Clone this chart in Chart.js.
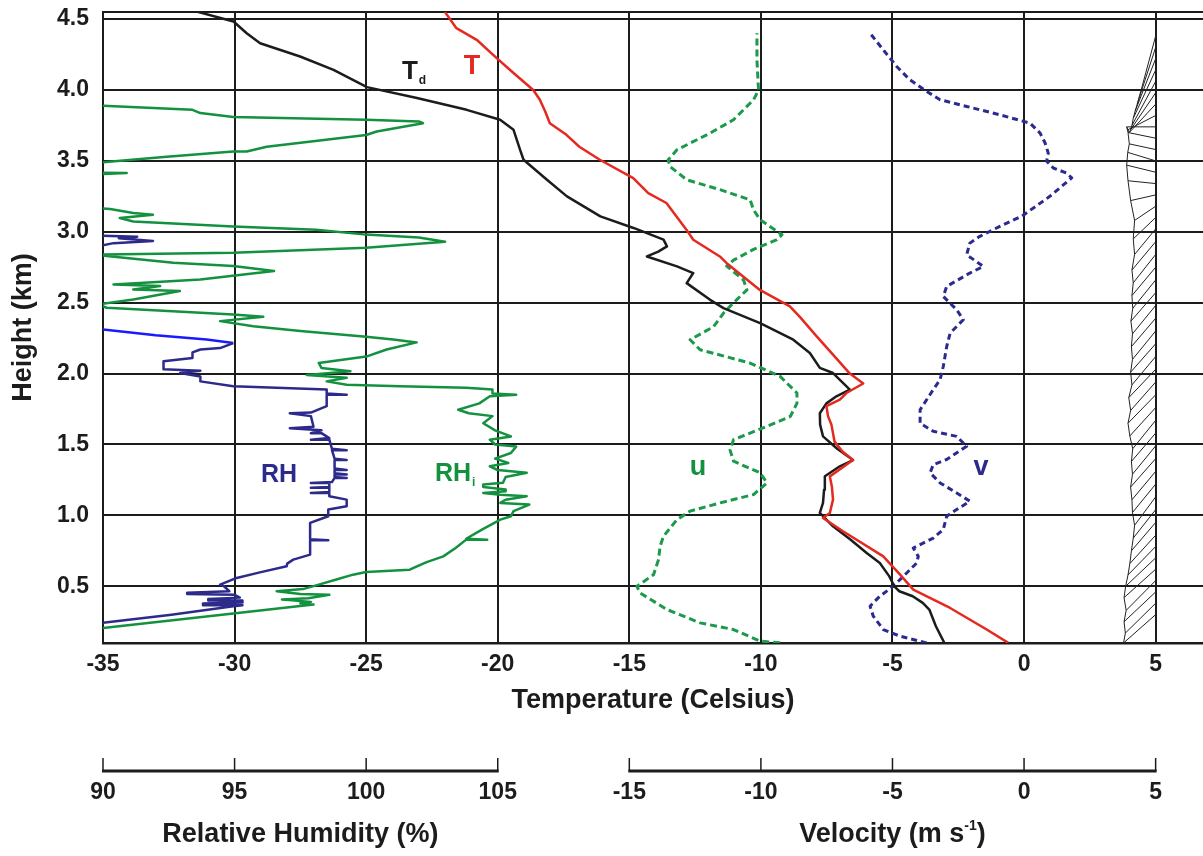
<!DOCTYPE html>
<html>
<head>
<meta charset="utf-8">
<title>Sounding profile</title>
<script src="https://cdn.jsdelivr.net/npm/chart.js@4.4.1/dist/chart.umd.min.js"></script>
<style>
  html, body { margin: 0; padding: 0; background: #fff; }
  canvas { display: block; }
</style>
</head>
<body>
<canvas id="sounding" width="1203" height="856"></canvas>
<script>
// profiles are [height km, value]
const temperature = [
  [0.101, -0.6], [0.195, -1.42], [0.347, -2.81], [0.476, -4.21], [0.582, -4.71], [0.711, -5.35],
  [0.888, -6.88], [0.982, -7.64], [1.017, -7.38], [1.111, -7.26], [1.2, -7.3], [1.275, -7.38],
  [1.39, -6.5], [1.45, -6.9], [1.52, -7.2], [1.64, -7.32], [1.7, -7.45], [1.77, -7.51],
  [1.816, -7.0], [1.863, -6.75], [1.93, -6.11], [2.0, -6.62], [2.1, -7.1], [2.262, -7.88],
  [2.4, -8.52], [2.474, -8.9], [2.59, -10.04], [2.78, -11.31], [2.826, -11.56], [2.944, -12.57],
  [3.015, -12.83], [3.203, -13.59], [3.273, -14.28], [3.379, -14.85], [3.508, -16.12], [3.6, -16.9],
  [3.684, -17.39], [3.766, -18.02], [3.85, -18.2], [3.931, -18.4], [4.0, -18.65], [4.12, -19.4],
  [4.225, -20.04], [4.354, -20.8], [4.436, -21.57], [4.551, -22.01]
];

const dewPoint = [
  [0.101, -3.03], [0.218, -3.35], [0.336, -3.6], [0.383, -3.85], [0.43, -4.23], [0.465, -4.74],
  [0.5, -4.93], [0.57, -5.12], [0.664, -5.48], [0.735, -5.98], [0.83, -6.6], [0.923, -7.26],
  [1.017, -7.76], [1.088, -7.64], [1.18, -7.6], [1.276, -7.57], [1.346, -7.0], [1.39, -6.5],
  [1.47, -7.1], [1.557, -7.64], [1.64, -7.75], [1.72, -7.76], [1.79, -7.51], [1.84, -7.13],
  [1.887, -6.62], [2.004, -7.26], [2.04, -7.76], [2.145, -8.14], [2.239, -8.77], [2.356, -10.03],
  [2.462, -11.42], [2.52, -11.93], [2.638, -12.82], [2.709, -12.57], [2.756, -13.19], [2.826, -14.33],
  [2.86, -13.9], [2.897, -13.57], [2.945, -13.7], [3.027, -14.84], [3.109, -16.1], [3.25, -17.37],
  [3.367, -18.13], [3.508, -19.02], [3.578, -19.15], [3.719, -19.4], [3.79, -19.91], [3.86, -21.18],
  [3.943, -23.07], [4.02, -24.97], [4.142, -26.24], [4.236, -27.51], [4.33, -29.03], [4.4, -29.54],
  [4.483, -30.04], [4.553, -31.44]
];

// relative humidity wrt water (%), null = break in the trace
const humidity = [
  [0.22, 89.5], [0.242, 90.0], [0.3, 92.6], [0.359, 94.95], [0.367, 95.3], [0.367, 93.8],
  [0.378, 93.8], [0.385, 95.3], [0.4, 95.3], [0.4, 94.0], [0.41, 94.0], [0.42, 95.2],
  [0.44, 95.0], [0.445, 93.2], [0.455, 93.2], [0.465, 94.8], [0.5, 94.6], [0.512, 94.45],
  [0.559, 95.08], [0.6, 96.0], [0.641, 96.98], [0.66, 97.0], [0.688, 97.23], [0.723, 97.87],
  [0.824, 97.87], [0.824, 98.56], [0.832, 97.87], [0.947, 97.87], [0.994, 98.56], [1.041, 98.56],
  [1.064, 99.26], [1.111, 99.26], [1.135, 98.6], [1.158, 98.6], [1.158, 97.9], [1.165, 98.6],
  [1.194, 98.6], [1.194, 97.9], [1.2, 98.6], [1.229, 98.6], [1.229, 97.9], [1.235, 98.7],
  [1.264, 98.8], [1.264, 99.26], [1.27, 98.8], [1.288, 98.8], [1.288, 99.26], [1.297, 98.8],
  [1.32, 98.8], [1.32, 99.26], [1.33, 98.8], [1.39, 98.8], [1.39, 99.26], [1.4, 98.8],
  [1.46, 98.7], [1.46, 99.26], [1.47, 98.7], [1.534, 98.6], [1.534, 97.9], [1.545, 98.6],
  [1.58, 98.3], [1.58, 97.9], [1.6, 98.3], [1.615, 97.1], [1.625, 98.0], [1.7, 97.9],
  [1.72, 97.1], [1.725, 97.9], [1.77, 98.5], [1.85, 98.5], [1.85, 99.26], [1.86, 98.5],
  [1.887, 98.5], [1.91, 94.95], [1.945, 93.7], [1.98, 93.7], [2.004, 92.93], [2.02, 93.7],
  [2.03, 92.3], [2.087, 92.3], [2.11, 93.4], [2.15, 93.4], [2.17, 93.7], [2.18, 94.45],
  [2.215, 94.95],
  [null, null],
  [2.975, 89.5], [2.965, 91.3], [2.955, 90.6], [2.935, 91.9], [2.92, 90.4], [2.89, 89.6]
];

// upper part of the RH trace, drawn in bright blue
const humidityTop = [
  [2.215, 94.95], [2.24, 93.94], [2.27, 92.0], [2.305, 90.27], [2.32, 89.5]
];

// relative humidity wrt ice (%)
const humidityIce = [
  [0.19, 89.3], [0.206, 90.0], [0.308, 94.95], [0.371, 98.0], [0.38, 97.5], [0.39, 97.9],
  [0.406, 96.8], [0.415, 97.8], [0.44, 98.6], [0.445, 97.5], [0.465, 96.6], [0.48, 97.6],
  [0.512, 98.2], [0.55, 98.9], [0.582, 99.5], [0.6, 100.0], [0.617, 101.66], [0.629, 101.8],
  [0.67, 102.3], [0.711, 102.93], [0.77, 103.4], [0.829, 103.8], [0.829, 104.6], [0.835, 103.8],
  [0.9, 104.4], [0.97, 105.1], [0.994, 105.5], [1.03, 105.6], [1.076, 106.2], [1.088, 105.1],
  [1.11, 105.3], [1.135, 106.1], [1.145, 105.1], [1.158, 104.45], [1.17, 105.3], [1.182, 105.3],
  [1.2, 104.45], [1.217, 104.45], [1.23, 105.2], [1.27, 105.3], [1.3, 106.1], [1.32, 105.0],
  [1.346, 104.7], [1.37, 105.4], [1.4, 104.9], [1.44, 105.5], [1.485, 105.7], [1.5, 104.9],
  [1.534, 104.7], [1.557, 105.5], [1.6, 104.9], [1.65, 104.45], [1.7, 104.8], [1.72, 103.9],
  [1.745, 103.5], [1.79, 104.3], [1.84, 104.7], [1.85, 105.7], [1.86, 104.8], [1.887, 104.8],
  [1.9, 103.8], [1.91, 101.3], [1.922, 99.26], [1.945, 98.5], [1.97, 99.26], [1.99, 97.74],
  [2.016, 99.4], [2.04, 98.3], [2.075, 98.2], [2.12, 100.0], [2.17, 100.78], [2.22, 101.92],
  [2.24, 101.03], [2.26, 100.0], [2.3, 97.5], [2.334, 95.71], [2.37, 94.45], [2.4, 96.09],
  [2.417, 94.95], [2.452, 91.4], [2.464, 90.14], [2.488, 89.8], [2.523, 91.15], [2.582, 92.92],
  [2.593, 91.15], [2.617, 92.17], [2.629, 90.4], [2.664, 93.7], [2.723, 96.5], [2.758, 94.95],
  [2.782, 92.67], [2.829, 90.14], [2.84, 89.8], [2.852, 94.95], [2.887, 100.0], [2.93, 103.0],
  [2.96, 102.0], [2.98, 100.0], [3.014, 98.1], [3.038, 94.95], [3.073, 91.15], [3.097, 90.64],
  [3.12, 91.9], [3.132, 91.15], [3.16, 90.27], [3.18, 89.0], [3.4, 88.8], [3.414, 90.9],
  [3.42, 89.2], [3.47, 88.8], [3.49, 90.0], [3.53, 92.42], [3.566, 94.95], [3.566, 95.46],
  [3.6, 96.22], [3.683, 100.0], [3.707, 100.4], [3.766, 102.16], [3.778, 102.0], [3.79, 100.0],
  [3.81, 94.95], [3.837, 93.7], [3.86, 93.4], [3.888, 90.0], [3.9, 89.0]
];

// wind components (m/s)
const windU = [
  [0.101, -9.27], [0.113, -10.03], [0.195, -11.04], [0.242, -12.31], [0.336, -13.57], [0.453, -14.59],
  [0.5, -14.71], [0.582, -14.08], [0.688, -13.89], [0.782, -13.83], [0.853, -13.7], [0.97, -13.19],
  [1.03, -12.69], [1.088, -11.55], [1.147, -10.28], [1.229, -9.77], [1.3, -10.03], [1.382, -11.04],
  [1.46, -11.17], [1.534, -11.04], [1.628, -9.77], [1.698, -8.88], [1.79, -8.63], [1.863, -8.63],
  [1.98, -9.27], [2.074, -10.41], [2.168, -12.31], [2.239, -12.69], [2.33, -11.8], [2.427, -11.42],
  [2.5, -11.04], [2.59, -10.53], [2.66, -10.66], [2.758, -11.3], [2.8, -11.04], [2.876, -10.28],
  [2.944, -9.39], [2.979, -9.2], [3.085, -10.03], [3.155, -10.28], [3.226, -10.41], [3.297, -11.55],
  [3.367, -12.82], [3.461, -13.46], [3.508, -13.52], [3.578, -13.19], [3.696, -11.93], [3.79, -11.04],
  [3.931, -10.28], [4.0, -10.09], [4.21, -10.15], [4.4, -10.15]
];

const windV = [
  [0.101, -3.7], [0.148, -4.71], [0.195, -5.35], [0.289, -5.73], [0.359, -5.85], [0.383, -5.73],
  [0.43, -5.48], [0.5, -4.97], [0.594, -4.46], [0.664, -4.08], [0.711, -4.02], [0.77, -4.21],
  [0.84, -3.45], [0.9, -3.07], [0.994, -2.94], [1.041, -2.56], [1.1, -2.06], [1.158, -2.56],
  [1.229, -3.19], [1.3, -3.57], [1.358, -3.45], [1.394, -2.94], [1.487, -2.18], [1.557, -2.56],
  [1.593, -3.45], [1.65, -3.95], [1.745, -3.95], [1.887, -3.45], [1.957, -3.19], [2.05, -3.07],
  [2.19, -2.94], [2.285, -2.81], [2.38, -2.31], [2.45, -2.56], [2.544, -3.07], [2.615, -2.94],
  [2.709, -2.06], [2.756, -1.55], [2.838, -2.18], [2.92, -2.06], [2.968, -1.68], [3.038, -0.92],
  [3.109, -0.095], [3.25, 0.98], [3.38, 1.81], [3.414, 1.62], [3.45, 1.11], [3.497, 0.86],
  [3.555, 0.92], [3.626, 0.8], [3.696, 0.61], [3.766, 0.23], [3.825, -0.92], [3.884, -2.18],
  [3.931, -3.19], [3.99, -3.7], [4.072, -4.34], [4.166, -4.84], [4.283, -5.35], [4.4, -5.85]
];

// wind sticks hanging from the 5 m/s line: [base height, tip velocity, tip height]
const stickBaseSpeed = 5;
const windSticks = [
  [0.3, 3.78, 0.1], [0.38, 3.85, 0.17], [0.46, 3.8, 0.25], [0.54, 3.88, 0.33], [0.62, 3.8, 0.42],
  [0.7, 3.86, 0.5], [0.78, 3.95, 0.58], [0.86, 4.02, 0.66], [0.95, 4.08, 0.75], [1.04, 4.15, 0.84],
  [1.13, 4.2, 0.93], [1.22, 4.12, 1.02], [1.31, 4.1, 1.11], [1.4, 4.05, 1.2], [1.49, 4.12, 1.29],
  [1.58, 4.08, 1.38], [1.67, 4.13, 1.47], [1.76, 4.02, 1.56], [1.85, 3.95, 1.65], [1.94, 4.05, 1.74],
  [2.03, 3.98, 1.83], [2.12, 4.1, 1.92], [2.21, 4.05, 2.01], [2.3, 4.12, 2.1], [2.39, 4.08, 2.19],
  [2.48, 4.12, 2.28], [2.57, 4.06, 2.37], [2.66, 4.13, 2.46], [2.75, 4.1, 2.55], [2.84, 4.15, 2.64],
  [2.93, 4.1, 2.73], [3.02, 4.2, 2.84], [3.1, 4.15, 2.95], [3.18, 4.2, 3.08], [3.26, 4.05, 3.22],
  [3.34, 3.95, 3.36], [3.42, 3.9, 3.47], [3.5, 3.94, 3.56], [3.58, 4.0, 3.62], [3.66, 3.95, 3.7],
  [3.74, 3.9, 3.74], [3.82, 3.95, 3.72], [3.9, 4.0, 3.7], [3.98, 4.05, 3.72], [4.06, 4.1, 3.75],
  [4.14, 4.15, 3.8], [4.22, 4.22, 3.85], [4.3, 4.3, 3.9], [4.38, 4.45, 4.0]
];

const temperatureTicks = [-35, -30, -25, -20, -15, -10, -5, 0, 5];
const heightTicks = [0.5, 1.0, 1.5, 2.0, 2.5, 3.0, 3.5, 4.0, 4.5];
const humidityTicks = [90, 95, 100, 105];
const velocityTicks = [-15, -10, -5, 0, 5];

const FONT = '"Liberation Sans", Arial, Helvetica, sans-serif';
const INK = '#1c1c1c';
const RED = '#e5291f';
const NAVY = '#2c2a8a';
const GREEN = '#14913f';

const toPoints = prof => prof.map(p => ({ x: p[1], y: p[0] }));

const stickPoints = [];
windSticks.forEach(s => {
  stickPoints.push({ x: stickBaseSpeed, y: s[0] }, { x: s[1], y: s[2] }, { x: null, y: null });
});
const stickEdge = windSticks.map(s => ({ x: s[1], y: s[2] }));

// text that sits on the curves
const curveLabels = [
  { text: 'T', sub: 'd', scale: 'x', x: -23.34, y: 4.128, color: INK, size: 26 },
  { text: 'T', scale: 'x', x: -20.98, y: 4.163, color: RED, size: 27 },
  { text: 'RH', scale: 'xRH', x: 96.69, y: 1.287, color: NAVY, size: 25 },
  { text: 'RH', sub: 'i', scale: 'xRH', x: 103.3, y: 1.294, color: GREEN, size: 25 },
  { text: 'u', scale: 'xV', x: -12.39, y: 1.34, color: GREEN, size: 27 },
  { text: 'v', scale: 'xV', x: -1.64, y: 1.34, color: NAVY, size: 27 }
];

const curveLabelPlugin = {
  id: 'curveLabels',
  afterDatasetsDraw(chart) {
    const { ctx } = chart;
    const yScale = chart.scales.y;
    ctx.save();
    ctx.textBaseline = 'middle';
    curveLabels.forEach(l => {
      const px = chart.scales[l.scale].getPixelForValue(l.x);
      const py = yScale.getPixelForValue(l.y);
      ctx.fillStyle = l.color;
      ctx.font = `bold ${l.size}px ${FONT}`;
      ctx.textAlign = 'center';
      ctx.fillText(l.text, px, py);
      if (l.sub) {
        const w = ctx.measureText(l.text).width;
        ctx.font = `bold 12px ${FONT}`;
        ctx.textAlign = 'left';
        ctx.fillText(l.sub, px + w / 2 + 1, py + 9);
      }
    });
    ctx.restore();
  }
};

function drawLowerAxis(ctx, scale, ticks, lineY) {
  const x0 = scale.getPixelForValue(ticks[0]);
  const x1 = scale.getPixelForValue(ticks[ticks.length - 1]);
  ctx.strokeStyle = INK;
  ctx.fillStyle = INK;
  ctx.lineWidth = 3;
  ctx.beginPath();
  ctx.moveTo(x0 - 1, lineY);
  ctx.lineTo(x1 + 1, lineY);
  ctx.stroke();
  ctx.lineWidth = 1.5;
  ctx.font = `bold 23px ${FONT}`;
  ctx.textAlign = 'center';
  ctx.textBaseline = 'middle';
  ticks.forEach(v => {
    const x = scale.getPixelForValue(v);
    ctx.beginPath();
    ctx.moveTo(x, lineY - 13);
    ctx.lineTo(x, lineY);
    ctx.stroke();
    ctx.fillText(String(v), x, lineY + 22);
  });
  return (x0 + x1) / 2;
}

const lowerAxesPlugin = {
  id: 'lowerAxes',
  afterDraw(chart) {
    const { ctx } = chart;
    const lineY = 771, titleY = 835;
    ctx.save();
    const rhMid = drawLowerAxis(ctx, chart.scales.xRH, humidityTicks, lineY);
    const vMid = drawLowerAxis(ctx, chart.scales.xV, velocityTicks, lineY);

    const big = `bold 27px ${FONT}`;
    const small = `bold 14px ${FONT}`;
    ctx.font = big;
    ctx.textAlign = 'center';
    ctx.fillText('Relative Humidity (%)', rhMid, titleY);

    // Velocity (m s^-1)
    const a = 'Velocity (m s', b = '-1', c = ')';
    ctx.font = big;
    const wa = ctx.measureText(a).width, wc = ctx.measureText(c).width;
    ctx.font = small;
    const wb = ctx.measureText(b).width;
    let x = vMid - (wa + wb + wc) / 2;
    ctx.textAlign = 'left';
    ctx.font = big; ctx.fillText(a, x, titleY); x += wa;
    ctx.font = small; ctx.fillText(b, x, titleY - 9); x += wb;
    ctx.font = big; ctx.fillText(c, x, titleY);
    ctx.restore();
  }
};

const line = (label, data, color, axis, extra) => Object.assign({
  label, data, xAxisID: axis, yAxisID: 'y',
  borderColor: color, borderWidth: 2.5, pointRadius: 0, fill: false, spanGaps: false
}, extra || {});

new Chart(document.getElementById('sounding'), {
  type: 'line',
  data: {
    datasets: [
      line('T', toPoints(temperature), RED, 'x'),
      line('Td', toPoints(dewPoint), INK, 'x'),
      line('RH', toPoints(humidity), NAVY, 'xRH'),
      line('RH top', toPoints(humidityTop), '#1a1aff', 'xRH'),
      line('RHi', toPoints(humidityIce), GREEN, 'xRH'),
      line('u', toPoints(windU), '#1a9a4a', 'xV', { borderWidth: 3, borderDash: [7, 4] }),
      line('v', toPoints(windV), '#2b2b8f', 'xV', { borderWidth: 3, borderDash: [6, 4] }),
      line('sticks', stickPoints, '#222', 'xV', { borderWidth: 1 }),
      line('stick edge', stickEdge, '#222', 'xV', { borderWidth: 1 })
    ]
  },
  options: {
    responsive: false,
    animation: false,
    devicePixelRatio: 1,
    layout: { padding: { top: 12, right: 0, bottom: 139, left: 0 } },
    plugins: { legend: { display: false }, tooltip: { enabled: false } },
    elements: { line: { tension: 0, borderJoinStyle: 'round' }, point: { radius: 0 } },
    scales: {
      x: {
        type: 'linear', position: 'bottom', min: -35, max: 6.8,
        afterBuildTicks: s => { s.ticks = temperatureTicks.map(v => ({ value: v })); },
        afterFit: s => { s.height = 74; s.paddingLeft = 0; s.paddingRight = 0; },
        grid: { color: INK, lineWidth: 2, drawTicks: false },
        border: { color: INK, width: 2.5 },
        ticks: {
          autoSkip: false, maxRotation: 0, padding: 8, color: INK,
          font: { family: FONT, size: 23, weight: 'bold' },
          callback: v => String(v)
        },
        title: {
          display: true, text: 'Temperature (Celsius)', color: INK,
          font: { family: FONT, size: 27, weight: 'bold' }, padding: { top: 0, bottom: 0 }
        }
      },
      y: {
        type: 'linear', position: 'left', min: 0.1, max: 4.55,
        afterBuildTicks: s => { s.ticks = heightTicks.concat([4.55]).map(v => ({ value: v })); },
        afterFit: s => { s.width = 103; s.paddingTop = 0; s.paddingBottom = 0; },
        grid: { color: INK, lineWidth: 2, drawTicks: false },
        border: { color: INK, width: 2 },
        ticks: {
          autoSkip: false, padding: 14, color: INK,
          font: { family: FONT, size: 23, weight: 'bold' },
          callback: v => (v > 4.5 ? '' : v.toFixed(1))
        },
        title: {
          display: true, text: 'Height (km)', color: INK,
          font: { family: FONT, size: 27, weight: 'bold' }, padding: { top: 7, bottom: 0 }
        }
      },
      xRH: { type: 'linear', display: false, min: 90, max: 131.8 },
      xV: { type: 'linear', display: false, min: -35, max: 6.8 }
    }
  },
  plugins: [curveLabelPlugin, lowerAxesPlugin]
});
</script>
</body>
</html>
